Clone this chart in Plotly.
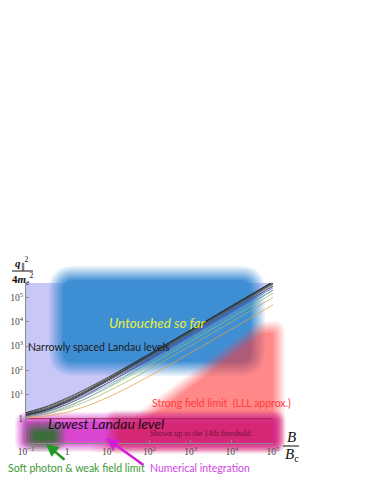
import numpy as np
import plotly.graph_objects as go

# ---------------- data ----------------
b_field = [0.1, 0.316, 1, 3.16, 10, 31.6, 100, 1000, 1e4, 1e5]   # B / B_c

thr_01 = [1.10, 1.30, 1.87, 3.43, 7.79, 20.3, 57.6, 523, 5070, 50200]
thr_02 = [1.19, 1.57, 2.62, 5.51, 13.7, 37.8, 111, 1030, 10100, 100300]
thr_03 = [1.28, 1.83, 3.32, 7.48, 19.4, 54.8, 163, 1540, 15100, 150400]
thr_04 = [1.20, 1.63, 3.00, 7.33, 21.0, 64.3, 201, 2000, 20000, 200000]
thr_05 = [1.37, 2.07, 4.00, 9.39, 25.0, 71.7, 215, 2050, 20100, 200400]
thr_06 = [1.46, 2.31, 4.66, 11.3, 30.5, 88.5, 266, 2550, 25200, 250500]
thr_07 = [1.30, 1.94, 3.94, 10.2, 30.2, 93.2, 292, 2920, 29100, 291400]
thr_08 = [1.54, 2.54, 5.30, 13.1, 36.0, 105, 318, 3060, 30200, 300500]
thr_09 = [1.62, 2.77, 5.94, 14.9, 41.4, 122, 369, 3560, 35200, 350600]
thr_10 = [1.39, 2.22, 4.79, 12.9, 38.4, 119, 374, 3730, 37300, 373200]
thr_11 = [1.40, 2.26, 5.00, 13.7, 41.0, 128, 401, 4000, 40000, 400000]
thr_12 = [1.71, 3.00, 6.56, 16.7, 46.8, 138, 421, 4060, 40200, 400600]
thr_13 = [1.48, 2.49, 5.60, 15.3, 46.1, 143, 451, 4500, 45000, 450000]
thr_14 = [1.79, 3.22, 7.18, 18.5, 52.2, 155, 472, 4570, 45200, 450600]

threshold_series = [thr_01, thr_02, thr_03, thr_04, thr_05, thr_06, thr_07,
                    thr_08, thr_09, thr_10, thr_11, thr_12, thr_13, thr_14]
line_colors = ["#e3a23c", "#a9b155", "#8fc47a", "#6d9fc0", "#5f9a98", "#4a4fc8",
               "#5b3f96", "#3c5472", "#2f3a44", "#6a6a6a", "#1e1e1e", "#555555",
               "#333333", "#111111"]

lll_b = [0.1, 1e5]
lll_level = [1, 1]

x_tick_vals = [0.1, 1, 10, 100, 1000, 1e4, 1e5]
x_tick_text = ["10<sup>−1</sup>", "1", "10<sup>1</sup>", "10<sup>2</sup>",
               "10<sup>3</sup>", "10<sup>4</sup>", "10<sup>5</sup>"]
y_tick_vals = [1, 10, 100, 1000, 1e4, 1e5]
y_tick_text = ["1", "10<sup>1</sup>", "10<sup>2</sup>", "10<sup>3</sup>",
               "10<sup>4</sup>", "10<sup>5</sup>"]

X_RANGE = [-1, 5]
Y_RANGE = [-1, 5.6]

# ---------------- geometry helpers ----------------
# coordinates below are given in window pixels; the page body adds an 8px margin
OFF = 8
W, H = 374 - OFF, 484 - OFF
PL, PR, PT, PB = 26, 273, 283, 443          # plot area in window pixels


def px(X):
    return (X - PL) / (PR - PL)


def py(Y):
    return (PB - Y) / (PB - PT)


def offset_poly(pts, d):
    pts = np.asarray(pts, float)
    c = pts.mean(axis=0)
    n = len(pts)
    out = []

    def normal(a, b):
        e = b - a
        nr = np.array([e[1], -e[0]]) / np.hypot(e[0], e[1])
        if np.dot(nr, (a + b) / 2 - c) < 0:
            nr = -nr
        return nr

    for i in range(n):
        p0, p1, p2 = pts[i - 1], pts[i], pts[(i + 1) % n]
        n1, n2 = normal(p0, p1), normal(p1, p2)
        out.append(p1 + d * (n1 + n2) / (1 + np.dot(n1, n2)))
    return out


def rounded_path(pts, r):
    n = len(pts)
    segs = []
    for i in range(n):
        p, v, q = np.asarray(pts[i - 1]), np.asarray(pts[i]), np.asarray(pts[(i + 1) % n])
        l1, l2 = np.hypot(*(p - v)), np.hypot(*(q - v))
        rr = min(r, 0.45 * l1, 0.45 * l2)
        a = v + (p - v) / l1 * rr
        b = v + (q - v) / l2 * rr
        segs.append((a, v, b))
    s = ""
    for i, (a, v, b) in enumerate(segs):
        s += ("M" if i == 0 else " L") + f"{px(a[0]):.5f},{py(a[1]):.5f}"
        s += f" Q{px(v[0]):.5f},{py(v[1]):.5f} {px(b[0]):.5f},{py(b[1]):.5f}"
    return s + " Z"


def blurred(pts, r, rgb, target, s, n=10):
    shapes = []
    prev = 0.0
    for k in range(n):
        d = s - 2 * s * k / (n - 1)
        A = target * (k + 1) / n
        a = 1 - (1 - A) / (1 - prev)
        prev = A
        poly = offset_poly(pts, d)
        shapes.append(dict(type="path", xref="paper", yref="paper", layer="below",
                           path=rounded_path(poly, max(r + d, 1)),
                           fillcolor=f"rgba({rgb[0]},{rgb[1]},{rgb[2]},{a:.4f})",
                           line=dict(width=0)))
    return shapes


def rect(x0, y0, x1, y1):
    return [(x0, y0), (x1, y0), (x1, y1), (x0, y1)]


# ---------------- figure ----------------
fig = go.Figure()

for vals, col in zip(threshold_series, line_colors):
    fig.add_trace(go.Scatter(x=b_field, y=vals, mode="lines",
                             line=dict(color=col, width=0.75, shape="spline", smoothing=0.6),
                             hoverinfo="skip", showlegend=False))

fig.add_trace(go.Scatter(x=lll_b, y=lll_level, mode="lines",
                         line=dict(color="#a3224f", width=1),
                         hoverinfo="skip", showlegend=False))

shapes = []
# lavender region above the highest threshold curve
top = thr_14
lx = [(np.log10(b) - X_RANGE[0]) / (X_RANGE[1] - X_RANGE[0]) for b in b_field]
ly = [min((np.log10(v) - Y_RANGE[0]) / (Y_RANGE[1] - Y_RANGE[0]), 1.0) for v in top]
lav = "M0,1 L1,1 " + " ".join(f"L{a:.5f},{b:.5f}" for a, b in zip(lx[::-1], ly[::-1])) + " Z"
shapes.append(dict(type="path", xref="paper", yref="paper", layer="below", path=lav,
                   fillcolor="rgb(201,199,247)", line=dict(width=0)))

shapes += blurred(rect(56, 273, 258, 369), 18, (60, 141, 212), 0.98, 7)
shapes += blurred([(102, 447), (261, 327), (279, 327), (279, 447)], 10, (255, 60, 62), 0.6, 6)
shapes += blurred(rect(20, 417, 279, 447), 6, (214, 56, 206), 0.92, 5)
shapes += blurred(rect(112, 417, 279, 447), 6, (214, 38, 108), 0.9, 7)
shapes += blurred(rect(28, 426, 60, 446), 9, (52, 112, 52), 0.95, 6)

# fraction bars of the axis titles
shapes.append(dict(type="line", xref="paper", yref="paper", layer="above",
                   x0=px(12), x1=px(33), y0=py(271), y1=py(271),
                   line=dict(color="#111", width=1)))
shapes.append(dict(type="line", xref="paper", yref="paper", layer="above",
                   x0=px(283), x1=px(299), y0=py(446), y1=py(446),
                   line=dict(color="#111", width=1)))

SANS = "Lato, Carlito, sans-serif"
SERIF = "Liberation Serif, Times New Roman, serif"


def txt(text, X, Y, size, color, family=SANS, anchor="left", style="normal"):
    return dict(text=text, xref="paper", yref="paper", x=px(X), y=py(Y),
                xanchor=anchor, yanchor="middle", showarrow=False, borderpad=0,
                font=dict(size=size, color=color, family=family, style=style))


annotations = [
    txt("Untouched so far", 157, 323, 13.5, "#e4ef3e", anchor="center", style="italic"),
    txt("Narrowly spaced Landau levels", 27, 347, 10.5, "#1c1c1c"),
    txt("Strong field limit  (LLL approx.)", 151, 403, 10.5, "#ff3d3d"),
    txt("Lowest Landau level", 47, 423, 14, "#141014", style="italic"),
    txt("Shown up to the 14th threshold.", 149, 433, 8, "#6c1535", family=SERIF),
    txt("Soft photon &amp; weak field limit", 7, 468, 10.5, "#3d9a33"),
    txt("Numerical integration", 149, 468, 10.5, "#d046e4"),
    txt("<b><i>q</i></b><sub>∥</sub><sup>2</sup>", 22, 263, 11, "#111", family=SERIF, anchor="center"),
    txt("<b>4<i>m</i></b><sub>e</sub><sup>2</sup>", 22, 279, 11, "#111", family=SERIF, anchor="center"),
    txt("<i>B</i>", 291, 437, 15, "#111", family=SERIF, anchor="center"),
    txt("<i>B</i><sub>c</sub>", 292, 455, 15, "#111", family=SERIF, anchor="center"),
]

# arrows
annotations.append(dict(text="", xref="paper", yref="paper", x=px(46), y=py(444),
                        ax=20, ay=17, axref="pixel", ayref="pixel", showarrow=True,
                        arrowhead=2, arrowsize=1, arrowwidth=2.5, arrowcolor="#1f9a22"))
annotations.append(dict(text="", xref="paper", yref="paper", x=px(106), y=py(438),
                        ax=39, ay=28, axref="pixel", ayref="pixel", showarrow=True,
                        arrowhead=2, arrowsize=1, arrowwidth=2.5, arrowcolor="#d21fd6"))

axis_common = dict(type="log", showgrid=False, zeroline=False, showline=True,
                   linecolor="#8a8a8a", linewidth=1, ticks="inside", ticklen=3,
                   tickcolor="#8a8a8a", automargin=False,
                   tickfont=dict(family=SERIF, size=9.5, color="#4a4a4a"))

fig.update_layout(
    width=W, height=H, autosize=False,
    margin=dict(l=PL - OFF, r=(374 - PR), t=PT - OFF, b=(484 - PB), pad=0),
    paper_bgcolor="white", plot_bgcolor="rgba(0,0,0,0)",
    showlegend=False,
    xaxis=dict(range=X_RANGE, tickvals=x_tick_vals, ticktext=x_tick_text, **axis_common),
    yaxis=dict(range=Y_RANGE, tickvals=y_tick_vals, ticktext=y_tick_text, **axis_common),
    shapes=shapes, annotations=annotations,
)

fig.write_html("out.html")
